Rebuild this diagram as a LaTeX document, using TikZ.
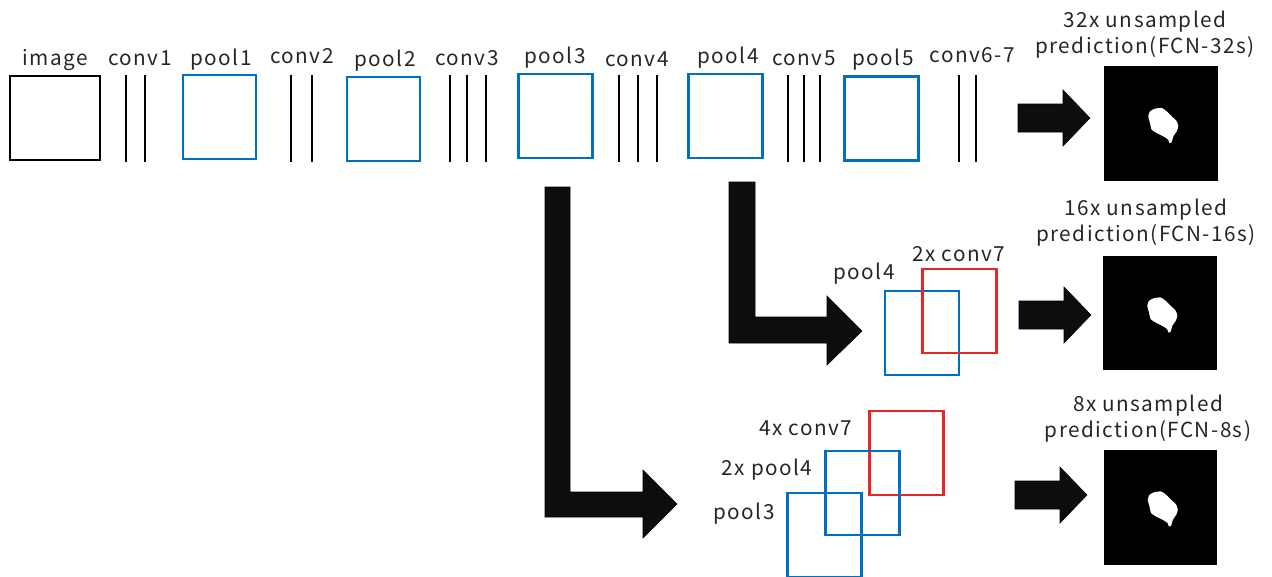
\documentclass[tikz,border=0pt]{standalone}
\usepackage{fontspec}
\setmainfont[LetterSpace=7]{Noto Sans CJK JP}
\definecolor{poolblue}{HTML}{0070C0}
\definecolor{upred}{HTML}{E8262A}

\begin{document}
\begin{tikzpicture}[x=0.02cm, y=-0.02cm]
	\tikzstyle{box} = [
		rectangle, line width=0.05cm, inner sep=0pt, minimum width=1.48cm, minimum height=1.68cm
	]
	\tikzstyle{pool} = [
		box, draw=poolblue
	]
	\tikzstyle{upconv} = [
		box, draw=upred
	]
	\tikzstyle{layer} = [
		anchor=base, inner sep=0pt, text=black!85, font=\fontsize{11.8}{14}\selectfont
	]
	\tikzstyle{caption} = [
		layer, align=center, font=\fontsize{11.8}{14.7}\selectfont
	]
	\tikzstyle{convline} = [
		line width=0.045cm
	]
	\tikzstyle{pred} = [
		rectangle, fill=black, inner sep=0pt, minimum width=2.28cm, minimum height=2.3cm
	]
	\tikzstyle{fatarrow} = [
		fill=black!95, draw=black, line width=0.3pt
	]

	\useasboundingbox (0,0) rectangle (1272,576);
	\clip (0,0) rectangle (1272,576);

	% Encoder
	\node (image) [box, draw=black, minimum width=1.8cm] at (55,118) {};
	\node (pool1) [pool, minimum width=1.46cm] at (219.5,117) {};
	\node (pool2) [pool, minimum width=1.46cm] at (383.5,119) {};
	\node (pool3) [pool] at (555.5,116) {};
	\node (pool4) [pool] at (725.5,116) {};
	\node (pool5) [pool] at (881.5,118.5) {};

	% conv blocks
	\foreach \x in {126,145,291,312,450,467,486,619,638,657,788,804,820,959,976}
		\draw[convline] (\x,75) -- (\x,162);

	% Captions
	\node (image_lab) [layer] at (55,65)   {image};
	\node (conv1_lab) [layer] at (140,65)  {conv1};
	\node (pool1_lab) [layer] at (221,65)  {pool1};
	\node (conv2_lab) [layer] at (302,63)  {conv2};
	\node (pool2_lab) [layer] at (385,66)  {pool2};
	\node (conv3_lab) [layer] at (467,65)  {conv3};
	\node (pool3_lab) [layer] at (555,63)  {pool3};
	\node (conv4_lab) [layer] at (637,66)  {conv4};
	\node (pool4_lab) [layer] at (728,63)  {pool4};
	\node (conv5_lab) [layer] at (804,65)  {conv5};
	\node (pool5_lab) [layer] at (883,65)  {pool5};
	\node (conv67_lab) [layer] at (972,62) {conv6-7};

	% FCN-16s fusion
	\node (fuse16_pool4) [pool] at (922,333) {};
	\node (fuse16_conv7) [upconv] at (959.5,311) {};
	\node [layer] at (864,279) {pool4};
	\node [layer] at (959,261) {2x conv7};

	% FCN-8s fusion
	\node (fuse8_conv7) [upconv] at (906.5,453) {};
	\node (fuse8_pool4) [pool] at (862.5,493) {};
	\node (fuse8_pool3) [pool] at (824.5,535) {};
	\node [layer] at (806,435) {4x conv7};
	\node [layer] at (767,475) {2x pool4};
	\node [layer] at (744,519) {pool3};

	% Skip arrows
	\fill[fatarrow] (729,182) -- (755,182) -- (755,317) -- (827,317) -- (827,296) -- (862,331)
		-- (827,365) -- (827,343) -- (729,343) -- cycle;
	\fill[fatarrow] (545,187) -- (570,187) -- (570,492) -- (643,492) -- (643,470) -- (677,504)
		-- (643,538) -- (643,517) -- (545,517) -- cycle;

	% Predictions
	\node (pred32) [pred] at (1161,123.5) {};
	\node (pred16) [pred] at (1160,313) {};
	\node (pred8)  [pred] at (1160.5,507) {};
	\node [caption] at (1145,53)  {32x unsampled\\prediction(FCN-32s)};
	\node [caption] at (1146,241) {16x unsampled\\prediction(FCN-16s)};
	\node [caption] at (1148,437) {8x unsampled\\prediction(FCN-8s)};

	\coordinate (tip32) at (1090,118);
	\coordinate (tip16) at (1091,315);
	\coordinate (tip8)  at (1087,495);
	\foreach \t in {tip32,tip16,tip8}
		\fill[fatarrow, shift={(\t)}] (-72,-14) -- (-27,-14) -- (-27,-28) -- (0,0)
			-- (-27,28) -- (-27,14) -- (-72,14) -- cycle;

	% segmented lesion
	\foreach \p in {pred32,pred16,pred8}
		\fill[white, shift={(\p.center)}] plot[smooth cycle, tension=0.4] coordinates {
			(-11,-12.2) (-6,-14.8) (0.7,-15.5) (5.7,-12.2) (10.7,-7.2) (15.7,-2.2) (17.3,2.8)
			(15.7,7.8) (12.3,12.8) (10.7,18.5) (8.3,19.5) (7.3,16.2) (2.3,12.8) (-4.3,9.5)
			(-9.3,6.2) (-11,-0.5) (-12.7,-7.2)};
\end{tikzpicture}
\end{document}
